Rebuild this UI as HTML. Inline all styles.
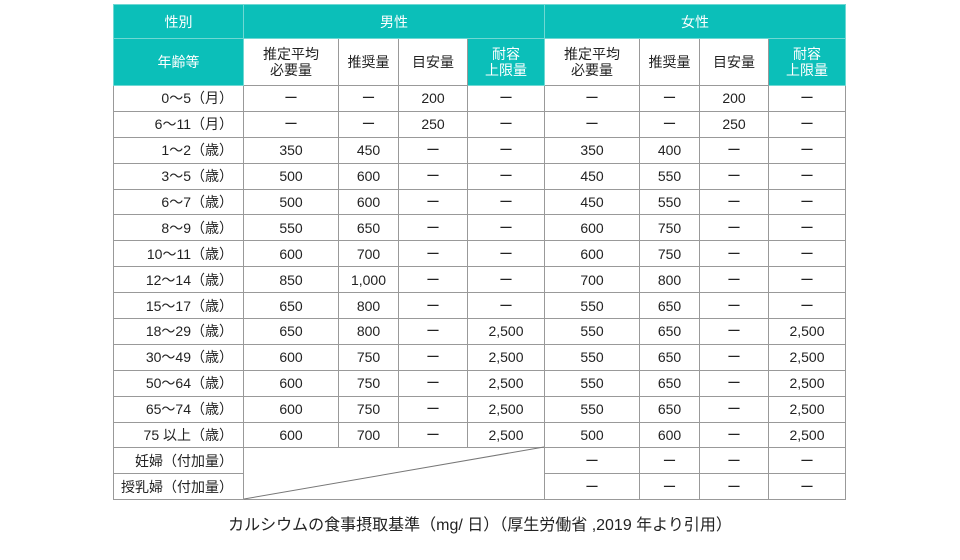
<!DOCTYPE html>
<html><head><meta charset="utf-8"><style>
body{margin:0;width:960px;height:560px;background:#fff;font-family:"Liberation Sans","Noto Sans CJK JP",sans-serif;color:#222;position:relative;overflow:hidden}
table{position:absolute;left:113px;top:4px;border-collapse:collapse;table-layout:fixed}
td{border:1px solid #999;text-align:center;font-size:14px;padding:0;line-height:16px}
.h{background:#0bbfb9;color:#fff;border-color:#6fd8d3}
.l{text-align:right;padding-right:10px}
tr.d td{height:24.9px}
#cap{position:absolute;left:0;width:960px;top:511px;text-align:center;font-size:16px}
svg{position:absolute;left:0;top:0}
</style></head><body>
<table>
<colgroup><col style="width:130px"><col style="width:95px"><col style="width:60px"><col style="width:69px"><col style="width:77px"><col style="width:95px"><col style="width:60px"><col style="width:69px"><col style="width:77px"></colgroup>
<tr style="height:34px"><td class="h">性別</td><td class="h" colspan="4">男性</td><td class="h" colspan="4">女性</td></tr>
<tr style="height:47px"><td class="h">年齢等</td><td>推定平均<br>必要量</td><td>推奨量</td><td>目安量</td><td class="h">耐容<br>上限量</td><td>推定平均<br>必要量</td><td>推奨量</td><td>目安量</td><td class="h">耐容<br>上限量</td></tr>
<tbody id="b"></tbody>
</table>
<svg width="960" height="560"><line x1="244" y1="499" x2="544" y2="447" stroke="#777" stroke-width="1"/></svg>
<div id="cap">カルシウムの食事摂取基準（mg/ 日）（厚生労働省 ,2019 年より引用）</div>
<script>
const D='ー';
const rows=[
['0～5（月）',D,D,'200',D,D,D,'200',D],
['6～11（月）',D,D,'250',D,D,D,'250',D],
['1～2（歳）','350','450',D,D,'350','400',D,D],
['3～5（歳）','500','600',D,D,'450','550',D,D],
['6～7（歳）','500','600',D,D,'450','550',D,D],
['8～9（歳）','550','650',D,D,'600','750',D,D],
['10～11（歳）','600','700',D,D,'600','750',D,D],
['12～14（歳）','850','1,000',D,D,'700','800',D,D],
['15～17（歳）','650','800',D,D,'550','650',D,D],
['18～29（歳）','650','800',D,'2,500','550','650',D,'2,500'],
['30～49（歳）','600','750',D,'2,500','550','650',D,'2,500'],
['50～64（歳）','600','750',D,'2,500','550','650',D,'2,500'],
['65～74（歳）','600','750',D,'2,500','550','650',D,'2,500'],
['75 以上（歳）','600','700',D,'2,500','500','600',D,'2,500'],
['妊婦（付加量）',null,null,null,null,D,D,D,D],
['授乳婦（付加量）',null,null,null,null,D,D,D,D]];
const b=document.getElementById('b');
rows.forEach((r,i)=>{
 const tr=document.createElement('tr');tr.className='d';
 
 
 r.forEach((v,j)=>{
  if(v===null){ if(i===14&&j===1){const td=document.createElement('td');td.colSpan=4;td.rowSpan=2;tr.appendChild(td);} return;}
  const td=document.createElement('td');td.textContent=v;if(j===0)td.className='l';
  
  
  tr.appendChild(td);
 });
 b.appendChild(tr);
});
</script>
</body></html>
